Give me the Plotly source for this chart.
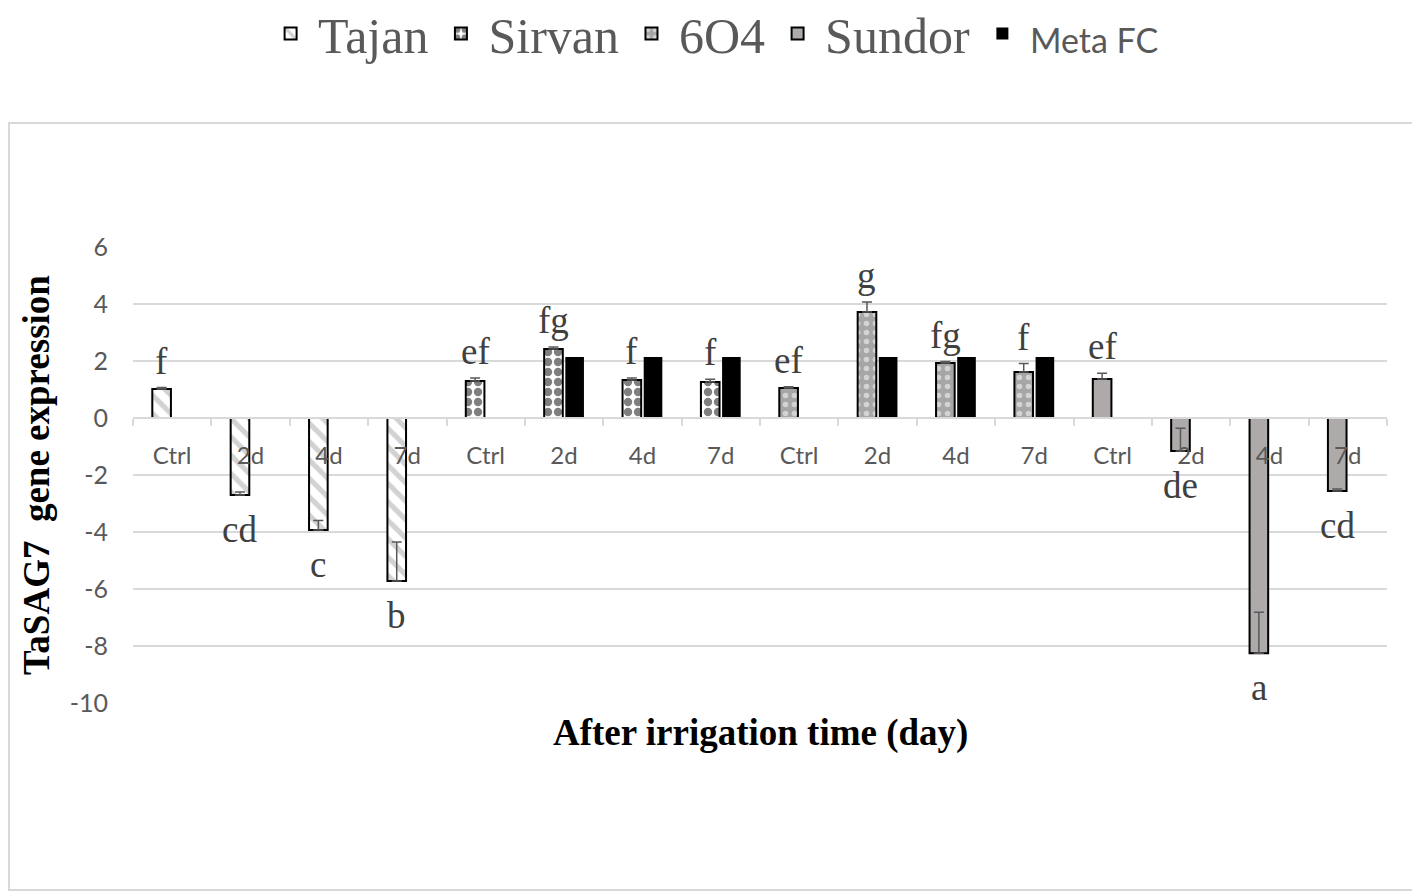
import plotly.graph_objects as go

# ---- data ----
tick_labels = ["Ctrl", "2d", "4d", "7d"] * 4
x_tajan = [0, 1, 2, 3]
x_sirvan = [4, 5, 6, 7]
x_604 = [8, 9, 10, 11]
x_sundor = [12, 13, 14, 15]
x_meta = [5, 6, 7, 9, 10, 11]

tajan_vals = [1.02, -2.70, -3.93, -5.72]
tajan_err = [0.05, 0.10, 0.33, 1.37]
tajan_letters = ["f", "cd", "c", "b"]

sirvan_vals = [1.30, 2.42, 1.33, 1.26]
sirvan_err = [0.10, 0.07, 0.07, 0.10]
sirvan_letters = ["ef", "fg", "f", "f"]

g604_vals = [1.05, 3.72, 1.93, 1.61]
g604_err = [0.05, 0.35, 0.05, 0.30]
g604_letters = ["ef", "g", "fg", "f"]

sundor_vals = [1.37, -1.16, -8.25, -2.56]
sundor_err = [0.20, 0.80, 1.43, 0.07]
sundor_letters = ["ef", "de", "a", "cd"]

meta_vals = [2.14, 2.14, 2.14, 2.14, 2.14, 2.14]

y_ticks = [6, 4, 2, 0, -2, -4, -6, -8, -10]
y_tick_text = ["6", "4", "2", "0", "-2", "-4", "-6", "-8", "-10"]

# ---- styles ----
GRID = "#d9d9d9"
TXT = "#595959"
ERR = dict(type="data", symmetric=False, color="#595959", thickness=1.5, width=5)
LETTER_FONT = dict(family="Liberation Serif", size=37, color="#404040")

fig = go.Figure()


def add_variety(name, xs, vals, errs, pattern, fill):
    fig.add_trace(go.Bar(
        name=name, x=xs, y=vals, offsetgroup="v",
        marker=dict(color=fill, line=dict(color="black", width=2), pattern=pattern),
        error_y=dict(array=errs, arrayminus=[0] * len(errs), **ERR),
    ))


add_variety("Tajan", x_tajan, tajan_vals, tajan_err,
            dict(shape="\\", fgcolor="#a6a6a6", bgcolor="white", size=13, solidity=0.4), "white")
add_variety("Sirvan", x_sirvan, sirvan_vals, sirvan_err,
            dict(shape=".", fgcolor="black", bgcolor="white", size=10, solidity=0.55), "white")
add_variety("6O4", x_604, g604_vals, g604_err,
            dict(shape=".", fgcolor="white", bgcolor="#a6a6a6", size=9, solidity=0.3), "#a6a6a6")
add_variety("Sundor", x_sundor, sundor_vals, sundor_err,
            dict(shape=""), "#aeaaaa")

fig.add_trace(go.Bar(
    name="<span style='font-family:Lato;font-size:34px'>Meta FC</span>",
    x=x_meta, y=meta_vals, offsetgroup="m",
    marker=dict(color="black", line=dict(width=0)),
))

# significance letters
annotations = []
group_sets = [(x_tajan, tajan_vals, tajan_err, tajan_letters),
              (x_sirvan, sirvan_vals, sirvan_err, sirvan_letters),
              (x_604, g604_vals, g604_err, g604_letters),
              (x_sundor, sundor_vals, sundor_err, sundor_letters)]
for xs, vals, errs, letters in group_sets:
    for xv, v, e, t in zip(xs, vals, errs, letters):
        if v >= 0:
            annotations.append(dict(x=xv - 0.135, y=v + e, text=t, showarrow=False,
                                    yanchor="bottom", yshift=4, xref="x", yref="y",
                                    font=LETTER_FONT))
        else:
            annotations.append(dict(x=xv - 0.135, y=v, text=t, showarrow=False,
                                    yanchor="top", yshift=-12, xref="x", yref="y",
                                    font=LETTER_FONT))

annotations.append(dict(text="<b>After irrigation time (day)</b>", x=0.5, y=-0.066,
                        xref="paper", yref="paper", showarrow=False, yanchor="middle",
                        font=dict(family="Liberation Serif", size=37, color="black")))

fig.update_layout(
    width=1412, height=884,
    margin=dict(l=125, r=33, t=239, b=189, autoexpand=False),
    paper_bgcolor="white", plot_bgcolor="white",
    barmode="group", bargap=0.46, bargroupgap=0.12,
    showlegend=True,
    legend=dict(orientation="h", x=0.463, xanchor="center", y=1.468, yanchor="middle",
                font=dict(family="Liberation Serif", size=50, color=TXT),
                itemwidth=45, traceorder="normal"),
    annotations=annotations,
    shapes=[dict(type="rect", xref="paper", yref="paper", x0=-0.0989, x1=1.0247,
                 y0=-0.410, y1=1.2719, line=dict(color=GRID, width=2), layer="below")],
    xaxis=dict(
        range=[-0.5, 15.5], tickmode="array", tickvals=list(range(16)), ticktext=tick_labels,
        anchor="free", position=0.625, showline=True, linecolor=GRID, linewidth=2,
        showgrid=False, zeroline=False, ticks="", ticklabelstandoff=16,
        tickfont=dict(family="Lato", size=24, color=TXT),
        minor=dict(tickmode="linear", tick0=-0.5, dtick=1, ticks="outside", ticklen=7,
                   tickcolor=GRID, tickwidth=2, showgrid=False),
        fixedrange=True,
    ),
    yaxis=dict(
        range=[-10, 6], tickmode="array", tickvals=y_ticks, ticktext=y_tick_text,
        showgrid=True, gridcolor=GRID, gridwidth=2, zeroline=False, showline=False,
        ticks="", ticklabelstandoff=24,
        tickfont=dict(family="Lato", size=25, color=TXT),
        title=dict(text="<b>TaSAG7  gene expression</b>", standoff=8,
                   font=dict(family="Liberation Serif", size=37, color="black")),
        fixedrange=True,
    ),
)

fig.write_html("out.html")
